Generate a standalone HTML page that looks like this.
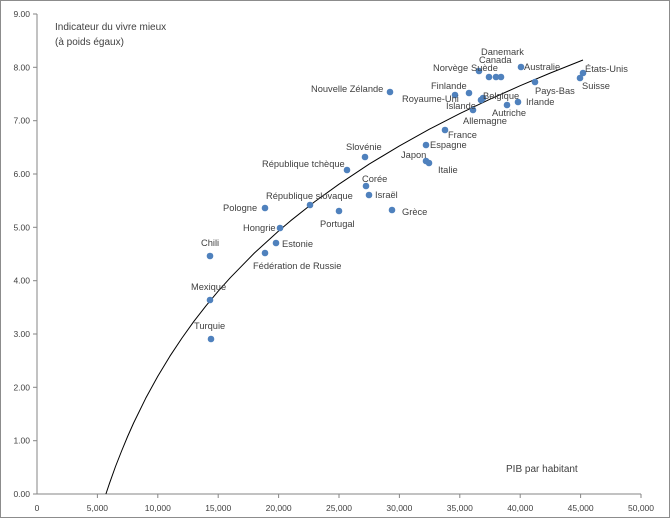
<!DOCTYPE html>
<html><head><meta charset="utf-8"><style>
html,body{margin:0;padding:0;background:#fff}
svg{display:block}
text{font-family:"Liberation Sans",sans-serif;font-size:9.3px;fill:#404040}
.ax{font-size:8.5px}
</style></head><body>
<svg width="670" height="518" viewBox="0 0 670 518">
<rect x="0.5" y="0.5" width="669" height="517" fill="#fff" stroke="#8c8c8c"/>
<line x1="37" y1="14" x2="37" y2="494" stroke="#868686"/>
<line x1="37" y1="494" x2="641" y2="494" stroke="#868686"/>
<g stroke="#868686">
<line x1="33" y1="14" x2="37" y2="14"/><line x1="33" y1="67.3" x2="37" y2="67.3"/><line x1="33" y1="120.7" x2="37" y2="120.7"/><line x1="33" y1="174" x2="37" y2="174"/><line x1="33" y1="227.3" x2="37" y2="227.3"/><line x1="33" y1="280.7" x2="37" y2="280.7"/><line x1="33" y1="334" x2="37" y2="334"/><line x1="33" y1="387.3" x2="37" y2="387.3"/><line x1="33" y1="440.7" x2="37" y2="440.7"/><line x1="33" y1="494" x2="37" y2="494"/>
<line x1="97.4" y1="494" x2="97.4" y2="498"/><line x1="157.8" y1="494" x2="157.8" y2="498"/><line x1="218.2" y1="494" x2="218.2" y2="498"/><line x1="278.6" y1="494" x2="278.6" y2="498"/><line x1="339" y1="494" x2="339" y2="498"/><line x1="399.4" y1="494" x2="399.4" y2="498"/><line x1="459.8" y1="494" x2="459.8" y2="498"/><line x1="520.2" y1="494" x2="520.2" y2="498"/><line x1="580.6" y1="494" x2="580.6" y2="498"/><line x1="641" y1="494" x2="641" y2="498"/>
</g>
<g text-anchor="end" class="ax">
<text class="ax" x="30" y="17">9.00</text><text class="ax" x="30" y="70.3">8.00</text><text class="ax" x="30" y="123.7">7.00</text><text class="ax" x="30" y="177">6.00</text><text class="ax" x="30" y="230.3">5.00</text><text class="ax" x="30" y="283.7">4.00</text><text class="ax" x="30" y="337">3.00</text><text class="ax" x="30" y="390.3">2.00</text><text class="ax" x="30" y="443.7">1.00</text><text class="ax" x="30" y="497">0.00</text>
</g>
<g text-anchor="middle">
<text class="ax" x="37" y="511">0</text><text class="ax" x="97.4" y="511">5,000</text><text class="ax" x="157.8" y="511">10,000</text><text class="ax" x="218.2" y="511">15,000</text><text class="ax" x="278.6" y="511">20,000</text><text class="ax" x="339" y="511">25,000</text><text class="ax" x="399.4" y="511">30,000</text><text class="ax" x="459.8" y="511">35,000</text><text class="ax" x="520.2" y="511">40,000</text><text class="ax" x="580.6" y="511">45,000</text><text class="ax" x="641" y="511">50,000</text>
</g>
<text x="55" y="30" style="font-size:10px">Indicateur du vivre mieux</text>
<text x="55" y="45" style="font-size:10px">(à poids égaux)</text>
<text x="506" y="472" style="font-size:10px">PIB par habitant</text>
<path d="M105.9,494 L109.5,483.3 L115.5,466.5 L121.6,451 L127.6,436.5 L133.6,423 L145.7,398.3 L157.8,376.2 L169.9,356.2 L182,338 L194,321.2 L206.1,305.7 L218.2,291.2 L230.3,277.7 L254.4,253 L278.6,231 L290.7,220.7 L314.8,201.6 L339,184.2 L369.2,164.1 L399.4,145.9 L429.6,129.1 L459.8,113.6 L490,99.2 L520.2,85.7 L550.4,73 L583,60" fill="none" stroke="#000" stroke-width="1" stroke-linejoin="round"/>
<g fill="#4f81bd">
<circle cx="210" cy="256" r="3.3"/><circle cx="210" cy="300" r="3.3"/><circle cx="211" cy="339" r="3.3"/>
<circle cx="265" cy="208" r="3.3"/><circle cx="280" cy="228" r="3.3"/><circle cx="276" cy="243" r="3.3"/><circle cx="265" cy="253" r="3.3"/>
<circle cx="310" cy="205" r="3.3"/><circle cx="347" cy="170" r="3.3"/><circle cx="365" cy="157" r="3.3"/><circle cx="339" cy="211" r="3.3"/>
<circle cx="366" cy="186" r="3.3"/><circle cx="369" cy="195" r="3.3"/><circle cx="392" cy="210" r="3.3"/>
<circle cx="426" cy="161" r="3.3"/><circle cx="429" cy="163" r="3.3"/><circle cx="426" cy="145" r="3.3"/><circle cx="445" cy="130" r="3.3"/>
<circle cx="390" cy="92" r="3.3"/><circle cx="455" cy="95" r="3.3"/><circle cx="469" cy="93" r="3.3"/>
<circle cx="481" cy="100" r="3.3"/><circle cx="483" cy="98" r="3.3"/><circle cx="473" cy="110" r="3.3"/>
<circle cx="507" cy="105" r="3.3"/><circle cx="518" cy="102" r="3.3"/><circle cx="535" cy="82" r="3.3"/>
<circle cx="521" cy="67" r="3.3"/><circle cx="479" cy="71" r="3.3"/>
<circle cx="489" cy="77" r="3.3"/><circle cx="496" cy="77" r="3.3"/><circle cx="501" cy="77" r="3.3"/>
<circle cx="583" cy="73" r="3.3"/><circle cx="580" cy="78" r="3.3"/>
</g>
<text x="201" y="246">Chili</text>
<text x="191" y="290">Mexique</text>
<text x="194" y="329">Turquie</text>
<text x="223" y="211">Pologne</text>
<text x="243" y="231">Hongrie</text>
<text x="282" y="247">Estonie</text>
<text x="253" y="269">Fédération de Russie</text>
<text x="266" y="199">République slovaque</text>
<text x="262" y="167">République tchèque</text>
<text x="346" y="150">Slovénie</text>
<text x="320" y="227">Portugal</text>
<text x="362" y="182">Corée</text>
<text x="375" y="198">Israël</text>
<text x="402" y="215">Grèce</text>
<text x="401" y="158">Japon</text>
<text x="438" y="173">Italie</text>
<text x="430" y="148">Espagne</text>
<text x="448" y="138">France</text>
<text x="311" y="92">Nouvelle Zélande</text>
<text x="431" y="89">Finlande</text>
<text x="402" y="102">Royaume-Uni</text>
<text x="446" y="109">Islande</text>
<text x="483" y="99">Belgique</text>
<text x="463" y="124">Allemagne</text>
<text x="492" y="116">Autriche</text>
<text x="526" y="105">Irlande</text>
<text x="535" y="94">Pays-Bas</text>
<text x="524" y="70">Australie</text>
<text x="433" y="71">Norvège</text>
<text x="471" y="71">Suède</text>
<text x="479" y="63">Canada</text>
<text x="481" y="55">Danemark</text>
<text x="585" y="72">États-Unis</text>
<text x="582" y="89">Suisse</text>
</svg>
</body></html>
